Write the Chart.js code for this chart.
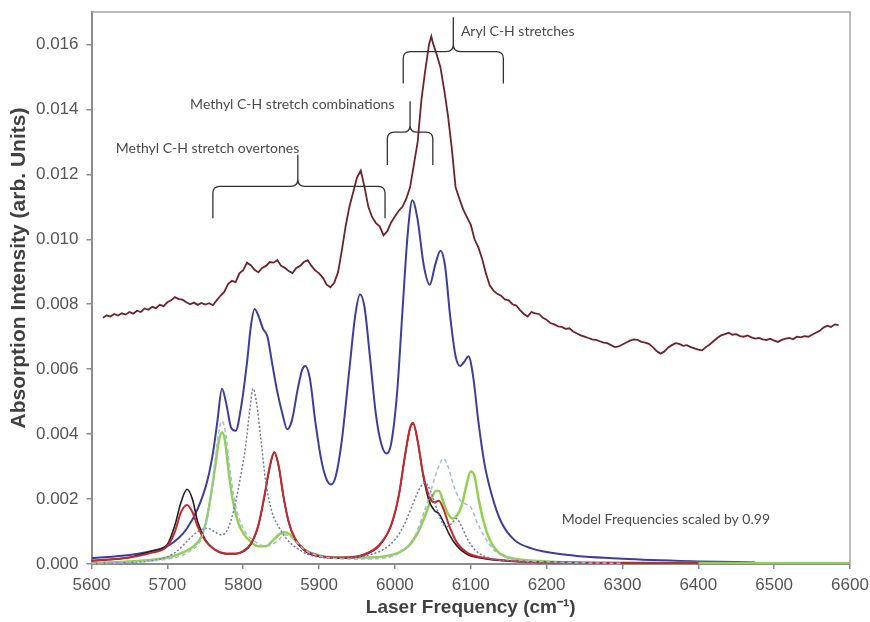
<!DOCTYPE html>
<html lang="en">
  <head>
    <meta charset="UTF-8" />
    <script src="https://cdnjs.cloudflare.com/ajax/libs/Chart.js/4.4.1/chart.umd.min.js"></script>
    <style>
      body { margin: 0; background: #fff; }
      #chart { display: block; }
    </style>
    <title>Absorption spectrum</title>
  </head>
  <body>
    <canvas id="chart" width="870" height="622"></canvas>
    <script>
      // measured spectrum (noisy brown trace)
      const expFreq = [
        5615, 5620, 5625, 5630, 5635, 5640, 5645, 5650, 5655, 5660, 5665, 5670, 5675, 5680, 5685, 5690, 5695,
        5700, 5705, 5710, 5715, 5720, 5725, 5730, 5735, 5740, 5745, 5750, 5755, 5760, 5765, 5770, 5775, 5780,
        5785, 5790, 5795, 5800, 5805, 5810, 5815, 5820, 5825, 5830, 5835, 5840, 5845, 5850, 5855, 5860, 5865,
        5870, 5875, 5880, 5885, 5890, 5895, 5900, 5905, 5910, 5915, 5920, 5925, 5930, 5935, 5940, 5945, 5950,
        5955, 5960, 5965, 5970, 5975, 5980, 5985, 5990, 5995, 6000, 6005, 6010, 6015, 6020, 6025, 6030, 6035,
        6040, 6045, 6048, 6050, 6055, 6060, 6065, 6070, 6075, 6080, 6085, 6090, 6095, 6100, 6105, 6110, 6115,
        6120, 6125, 6130, 6135, 6140, 6145, 6150, 6155, 6160, 6165, 6170, 6175, 6180, 6185, 6190, 6195, 6200,
        6205, 6210, 6215, 6220, 6225, 6230, 6235, 6240, 6245, 6250, 6255, 6260, 6265, 6270, 6275, 6280, 6285,
        6290, 6295, 6300, 6305, 6310, 6315, 6320, 6325, 6330, 6335, 6340, 6345, 6350, 6355, 6360, 6365, 6370,
        6375, 6380, 6385, 6390, 6395, 6400, 6405, 6410, 6415, 6420, 6425, 6430, 6435, 6440, 6445, 6450, 6455,
        6460, 6465, 6470, 6475, 6480, 6485, 6490, 6495, 6500, 6505, 6510, 6515, 6520, 6525, 6530, 6535, 6540,
        6545, 6550, 6555, 6560, 6565, 6570, 6575, 6580, 6585
      ];
      const expAbs = [
        0.00758, 0.00766, 0.00762, 0.00770, 0.00765, 0.00772, 0.00768, 0.00776, 0.00771, 0.00780, 0.00776, 0.00787, 0.00783, 0.00792, 0.00788, 0.00798, 0.00794,
        0.00806, 0.00812, 0.00822, 0.00816, 0.00814, 0.00806, 0.00800, 0.00805, 0.00798, 0.00804, 0.00799, 0.00803, 0.00797, 0.00812, 0.00826, 0.00838, 0.00862,
        0.00872, 0.00868, 0.00895, 0.00905, 0.00928, 0.00920, 0.00906, 0.00898, 0.00912, 0.00918, 0.00930, 0.00928, 0.00936, 0.00918, 0.00912, 0.00902, 0.00896,
        0.00912, 0.00918, 0.00930, 0.00936, 0.00918, 0.00904, 0.00895, 0.00882, 0.00860, 0.00852, 0.00866, 0.00898, 0.00965, 0.01040, 0.01100, 0.01145, 0.01190,
        0.01212, 0.01160, 0.01100, 0.01068, 0.01050, 0.01040, 0.01012, 0.01025, 0.01052, 0.01070, 0.01088, 0.01100, 0.01125, 0.01160, 0.01230, 0.01300, 0.01430,
        0.01520, 0.01600, 0.01625, 0.01605, 0.01570, 0.01530, 0.01460, 0.01380, 0.01280, 0.01160, 0.01125, 0.01092, 0.01068, 0.01045, 0.01000, 0.00975, 0.00940,
        0.00895, 0.00858, 0.00842, 0.00832, 0.00826, 0.00815, 0.00812, 0.00800, 0.00796, 0.00782, 0.00770, 0.00762, 0.00776, 0.00772, 0.00770, 0.00758, 0.00752,
        0.00742, 0.00738, 0.00732, 0.00730, 0.00724, 0.00726, 0.00716, 0.00710, 0.00704, 0.00700, 0.00696, 0.00692, 0.00690, 0.00686, 0.00682, 0.00680, 0.00674,
        0.00668, 0.00670, 0.00676, 0.00682, 0.00688, 0.00692, 0.00690, 0.00684, 0.00682, 0.00678, 0.00668, 0.00656, 0.00648, 0.00654, 0.00666, 0.00674, 0.00680,
        0.00678, 0.00672, 0.00674, 0.00668, 0.00664, 0.00660, 0.00658, 0.00668, 0.00676, 0.00686, 0.00696, 0.00704, 0.00708, 0.00712, 0.00706, 0.00708, 0.00702,
        0.00700, 0.00704, 0.00698, 0.00694, 0.00696, 0.00692, 0.00690, 0.00694, 0.00688, 0.00684, 0.00690, 0.00694, 0.00696, 0.00692, 0.00700, 0.00698, 0.00702,
        0.00700, 0.00706, 0.00712, 0.00718, 0.00728, 0.00734, 0.00730, 0.00738, 0.00736
      ];

      // model sum (blue)
      const sumFreq = [5600, 5650, 5680, 5700, 5715, 5726, 5740, 5752, 5760, 5766, 5772, 5778, 5784, 5790, 5797, 5805, 5810,
        5815, 5820, 5826, 5832, 5838, 5845, 5852, 5858, 5864, 5872, 5878, 5882, 5888, 5895, 5903, 5910, 5916, 5922, 5930,
        5940, 5948, 5954, 5960, 5967, 5975, 5982, 5989, 5995, 6003, 6010, 6017, 6023, 6030, 6038, 6046, 6053, 6060, 6066,
        6073, 6080, 6086, 6092, 6097, 6103, 6110, 6118, 6128, 6140, 6157, 6180, 6220, 6300, 6400, 6475];
      const sumAbs = [0.00018, 0.00028, 0.00040, 0.00055, 0.00080, 0.00110, 0.00170, 0.00250, 0.00340, 0.00440, 0.00540,
        0.00490, 0.00420, 0.00410, 0.00480, 0.00620, 0.00730, 0.00785, 0.00765, 0.00725, 0.00700, 0.00620, 0.00530, 0.00460,
        0.00415, 0.00440, 0.00540, 0.00600, 0.00610, 0.00570, 0.00440, 0.00320, 0.00260, 0.00245, 0.00270, 0.00380, 0.00600,
        0.00770, 0.00830, 0.00790, 0.00640, 0.00460, 0.00370, 0.00340, 0.00370, 0.00530, 0.00780, 0.01020, 0.01120, 0.01060,
        0.00920, 0.00860, 0.00920, 0.00965, 0.00920, 0.00760, 0.00640, 0.00610, 0.00625, 0.00640, 0.00580, 0.00440, 0.00310,
        0.00210, 0.00130, 0.00075, 0.00048, 0.00030, 0.00016, 0.00008, 0.00005];

      // component curves
      const redFreq = [5600, 5650, 5680, 5700, 5710, 5718, 5726, 5733, 5740, 5750, 5762, 5775, 5790, 5800, 5810, 5820, 5828,
        5835, 5841, 5847, 5853, 5860, 5868, 5880, 5900, 5930, 5960, 5980, 5995, 6005, 6013, 6020, 6024, 6030, 6037, 6045,
        6052, 6058, 6064, 6072, 6082, 6095, 6115, 6150, 6250, 6400];
      const redAbs = [0.00010, 0.00020, 0.00035, 0.00055, 0.00100, 0.00160, 0.00182, 0.00160, 0.00115, 0.00072, 0.00045,
        0.00033, 0.00032, 0.00040, 0.00062, 0.00120, 0.00210, 0.00300, 0.00345, 0.00300, 0.00210, 0.00130, 0.00080, 0.00045,
        0.00025, 0.00020, 0.00030, 0.00060, 0.00120, 0.00210, 0.00330, 0.00420, 0.00435, 0.00380, 0.00280, 0.00210, 0.00190,
        0.00195, 0.00170, 0.00115, 0.00065, 0.00035, 0.00020, 0.00010, 0.00004, 0.00002];
      const blackAbs = [0.00010, 0.00020, 0.00040, 0.00060, 0.00120, 0.00190, 0.00230, 0.00200, 0.00130, 0.00075, 0.00045,
        0.00032, 0.00031, 0.00038, 0.00060, 0.00118, 0.00208, 0.00298, 0.00343, 0.00298, 0.00208, 0.00128, 0.00078, 0.00043,
        0.00023, 0.00018, 0.00028, 0.00058, 0.00118, 0.00208, 0.00328, 0.00418, 0.00432, 0.00378, 0.00275, 0.00195, 0.00165,
        0.00155, 0.00130, 0.00090, 0.00055, 0.00030, 0.00018, 0.00009, 0.00004, 0.00002];

      const greenFreq = [5600, 5650, 5700, 5720, 5735, 5745, 5752, 5758, 5763, 5768, 5772, 5776, 5780, 5786, 5793, 5800,
        5810, 5820, 5830, 5840, 5848, 5855, 5862, 5870, 5880, 5895, 5920, 5960, 5990, 6005, 6018, 6030, 6040, 6048, 6054,
        6058, 6064, 6070, 6076, 6082, 6088, 6094, 6100, 6105, 6110, 6117, 6125, 6135, 6150, 6200, 6300, 6600];
      const greenAbs = [0.00003, 0.00008, 0.00020, 0.00035, 0.00055, 0.00085, 0.00140, 0.00220, 0.00300, 0.00380, 0.00405,
        0.00380, 0.00300, 0.00200, 0.00130, 0.00095, 0.00068, 0.00055, 0.00055, 0.00075, 0.00092, 0.00098, 0.00090, 0.00068,
        0.00045, 0.00030, 0.00020, 0.00020, 0.00025, 0.00035, 0.00055, 0.00095, 0.00150, 0.00200, 0.00225, 0.00225, 0.00190,
        0.00155, 0.00140, 0.00150, 0.00180, 0.00240, 0.00285, 0.00270, 0.00205, 0.00130, 0.00075, 0.00040, 0.00020, 0.00008,
        0.00004, 0.00002];

      const dotFreq = [5600, 5680, 5710, 5726, 5740, 5752, 5762, 5770, 5778, 5787, 5795, 5803, 5809, 5813, 5818, 5823, 5830,
        5838, 5848, 5858, 5870, 5885, 5920, 5960, 5985, 6000, 6012, 6022, 6030, 6036, 6040, 6046, 6053, 6060, 6068, 6075,
        6081, 6088, 6095, 6105, 6120, 6150, 6250];
      const dotAbs = [0.00002, 0.00010, 0.00035, 0.00070, 0.00100, 0.00110, 0.00100, 0.00090, 0.00100, 0.00160, 0.00250,
        0.00360, 0.00480, 0.00540, 0.00490, 0.00390, 0.00250, 0.00160, 0.00110, 0.00075, 0.00050, 0.00030, 0.00018, 0.00025,
        0.00045, 0.00075, 0.00120, 0.00175, 0.00220, 0.00245, 0.00250, 0.00230, 0.00185, 0.00140, 0.00115, 0.00125, 0.00140,
        0.00115, 0.00080, 0.00045, 0.00022, 0.00010, 0.00003];

      const dashFreq = [5600, 5700, 5730, 5745, 5755, 5762, 5768, 5772, 5777, 5782, 5790, 5800, 5815, 5830, 5845, 5855,
        5865, 5880, 5900, 5950, 5990, 6010, 6025, 6037, 6048, 6056, 6064, 6070, 6077, 6085, 6093, 6100, 6108, 6118, 6130,
        6147, 6200, 6300];
      const dashAbs = [0.00002, 0.00015, 0.00040, 0.00080, 0.00170, 0.00300, 0.00410, 0.00440, 0.00400, 0.00300, 0.00180,
        0.00110, 0.00070, 0.00055, 0.00070, 0.00090, 0.00080, 0.00045, 0.00025, 0.00015, 0.00020, 0.00040, 0.00080, 0.00150,
        0.00230, 0.00290, 0.00325, 0.00300, 0.00245, 0.00200, 0.00185, 0.00175, 0.00130, 0.00085, 0.00045, 0.00020, 0.00007,
        0.00002];

      const xTicks = [5600, 5700, 5800, 5900, 6000, 6100, 6200, 6300, 6400, 6500, 6600];
      const yTicks = [0, 0.002, 0.004, 0.006, 0.008, 0.010, 0.012, 0.014, 0.016];

      const pts = (xs, ys) => xs.map((x, i) => ({ x: x, y: ys[i] }));

      // brackets + labels, in data units
      const braces = [
        { from: 5760, to: 5987, tip: 5872, foot: 0.01065, bar: 0.01163, top: 0.0126 },
        { from: 5990, to: 6050, tip: 6020, foot: 0.01229, bar: 0.01330, top: 0.01425 },
        { from: 6011, to: 6143, tip: 6077, foot: 0.01480, bar: 0.01578, top: 0.01684 }
      ];
      const notes = [
        { text: "Methyl C-H stretch overtones", x: 5632, y: 0.01281 },
        { text: "Methyl C-H stretch combinations", x: 5730, y: 0.01416 },
        { text: "Aryl C-H stretches", x: 6087, y: 0.01641 },
        { text: "Model Frequencies scaled by 0.99", x: 6220, y: 0.00136 }
      ];

      const decor = {
        id: "decor",
        afterDraw: (chart) => {
          const ctx = chart.ctx;
          const xs = chart.scales.x, ys = chart.scales.y;
          const a = chart.chartArea;
          ctx.save();
          // top + right frame
          ctx.strokeStyle = "#a6a6a6";
          ctx.lineWidth = 1.5;
          ctx.beginPath();
          ctx.moveTo(a.left, a.top);
          ctx.lineTo(a.right, a.top);
          ctx.lineTo(a.right, a.bottom);
          ctx.stroke();

          ctx.strokeStyle = "#333";
          ctx.lineWidth = 1.3;
          const r = 7;
          braces.forEach((b) => {
            const xl = xs.getPixelForValue(b.from), xr = xs.getPixelForValue(b.to);
            const xt = xs.getPixelForValue(b.tip);
            const yf = ys.getPixelForValue(b.foot), yb = ys.getPixelForValue(b.bar);
            const yt = ys.getPixelForValue(b.top);
            ctx.beginPath();
            ctx.moveTo(xl, yf);
            ctx.lineTo(xl, yb + r);
            ctx.quadraticCurveTo(xl, yb, xl + r, yb);
            ctx.lineTo(xt - r, yb);
            ctx.quadraticCurveTo(xt, yb, xt, yb - r);
            ctx.lineTo(xt, yt);
            ctx.moveTo(xt, yb - r);
            ctx.quadraticCurveTo(xt, yb, xt + r, yb);
            ctx.lineTo(xr - r, yb);
            ctx.quadraticCurveTo(xr, yb, xr, yb + r);
            ctx.lineTo(xr, yf);
            ctx.stroke();
          });

          ctx.fillStyle = "#4a4a4a";
          ctx.font = "14px Lato";
          ctx.textAlign = "left";
          ctx.textBaseline = "middle";
          notes.forEach((n) => {
            ctx.fillText(n.text, xs.getPixelForValue(n.x), ys.getPixelForValue(n.y));
          });

          // y axis title
          ctx.translate(19, 268);
          ctx.rotate(-Math.PI / 2);
          ctx.textAlign = "center";
          ctx.fillStyle = "#404040";
          ctx.font = "bold 21px 'Liberation Sans', Arial, sans-serif";
          ctx.fillText("Absorption Intensity (arb. Units)", 0, 0);
          ctx.restore();
        },
      };

      const line = (data, color, width, extra) =>
        Object.assign({ data: data, borderColor: color, borderWidth: width, pointRadius: 0,
          fill: false, cubicInterpolationMode: "monotone" }, extra || {});

      const noPad = (s) => { s.paddingLeft = 0; s.paddingRight = 0; s.paddingTop = 0; s.paddingBottom = 0; };

      const config = {
        type: "line",
        data: {
          datasets: [
            line(pts(dashFreq, dashAbs), "#a3b6e8", 1.5, { borderDash: [4, 3] }),
            line(pts(dotFreq, dotAbs), "#7474a8", 1.5, { borderDash: [2, 2] }),
            line(pts(redFreq, redAbs), "#c8282d", 2),
            line(pts(redFreq, blackAbs), "#1e1e1e", 1.6),
            line(pts(greenFreq, greenAbs), "#92d050", 2.5),
            line(pts(sumFreq, sumAbs), "#3d3d9e", 2),
            line(pts(expFreq, expAbs), "#6e2329", 1.8, { cubicInterpolationMode: "default", tension: 0 }),
          ],
        },
        options: {
          responsive: false,
          animation: false,
          layout: { padding: { top: 12, right: 20, left: 0, bottom: 0 } },
          plugins: { legend: { display: false }, tooltip: { enabled: false } },
          scales: {
            x: {
              type: "linear",
              min: xTicks[0],
              max: xTicks[xTicks.length - 1],
              afterBuildTicks: (s) => { s.ticks = xTicks.map((v) => ({ value: v })); },
              afterFit: (s) => { s.height = 58; noPad(s); },
              ticks: {
                color: "#555",
                padding: 6,
                font: { family: "'Liberation Sans', Arial", size: 17 },
                callback: (v) => String(v),
              },
              grid: { drawOnChartArea: false, tickLength: 5, color: "#8c8c8c", lineWidth: 1.5 },
              border: { color: "#8c8c8c", width: 2 },
              title: {
                display: true,
                text: "Laser Frequency (cm\u207B\u00B9)",
                color: "#404040",
                padding: { top: 0, bottom: 3 },
                font: { family: "'Liberation Sans', Arial", size: 19, weight: "bold" },
              },
            },
            y: {
              min: 0,
              max: 0.017,
              afterBuildTicks: (s) => { s.ticks = yTicks.map((v) => ({ value: v })); },
              afterFit: (s) => { s.width = 91.5; noPad(s); },
              ticks: {
                color: "#555",
                padding: 8,
                font: { family: "'Liberation Sans', Arial", size: 17 },
                callback: (v) => v.toFixed(3),
              },
              grid: { drawOnChartArea: false, tickLength: 5, color: "#8c8c8c", lineWidth: 1.5 },
              border: { color: "#8c8c8c", width: 2 },
            },
          },
        },
        plugins: [decor],
      };

      const chart = new Chart(document.getElementById("chart"), config);
    </script>
  </body>
</html>
